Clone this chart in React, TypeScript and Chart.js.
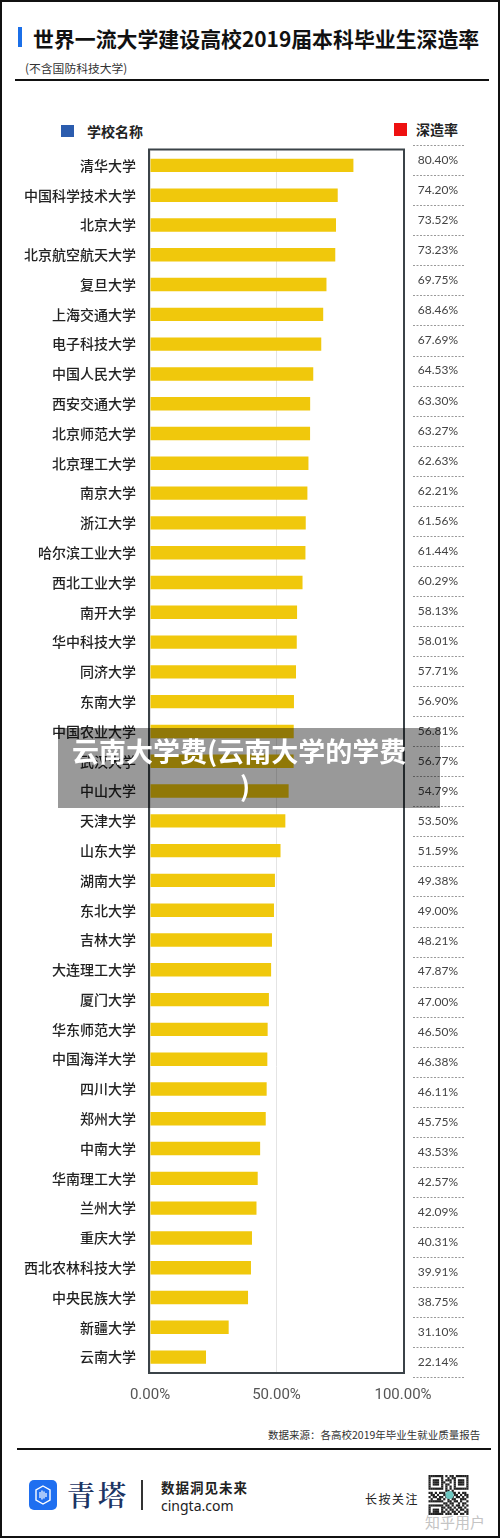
import React, { useEffect, useRef } from "react";
import { Chart, registerables } from "chart.js";

Chart.register(...registerables);

const schools = [
  "清华大学", "中国科学技术大学", "北京大学", "北京航空航天大学", "复旦大学",
  "上海交通大学", "电子科技大学", "中国人民大学", "西安交通大学", "北京师范大学",
  "北京理工大学", "南京大学", "浙江大学", "哈尔滨工业大学", "西北工业大学",
  "南开大学", "华中科技大学", "同济大学", "东南大学", "中国农业大学",
  "武汉大学", "中山大学", "天津大学", "山东大学", "湖南大学",
  "东北大学", "吉林大学", "大连理工大学", "厦门大学", "华东师范大学",
  "中国海洋大学", "四川大学", "郑州大学", "中南大学", "华南理工大学",
  "兰州大学", "重庆大学", "西北农林科技大学", "中央民族大学", "新疆大学",
  "云南大学",
];

const rates = [
  80.40, 74.20, 73.52, 73.23, 69.75,
  68.46, 67.69, 64.53, 63.30, 63.27,
  62.63, 62.21, 61.56, 61.44, 60.29,
  58.13, 58.01, 57.71, 56.90, 56.81,
  56.77, 54.79, 53.50, 51.59, 49.38,
  49.00, 48.21, 47.87, 47.00, 46.50,
  46.38, 46.11, 45.75, 43.53, 42.57,
  42.09, 40.31, 39.91, 38.75, 31.10,
  22.14,
];

const rateLabels = rates.map((v) => v.toFixed(2) + "%");
const xTickLabels = ["0.00%", "50.00%", "100.00%"];

const BAR_COLOR = "#f0c80c";
const FRAME_COLOR = "#3b4348";

const framePlugin = {
  id: "frameAndValues",
  afterDraw(chart: any) {
    const { ctx, chartArea: a, scales } = chart;
    const y = scales.y;
    ctx.save();
    ctx.strokeStyle = FRAME_COLOR;
    ctx.lineWidth = 2;
    ctx.setLineDash([]);
    ctx.strokeRect(a.left - 1, a.top - 1, a.right - a.left + 2, a.bottom - a.top + 2);

    const n = rates.length;
    const first = y.getPixelForValue(0);
    const last = y.getPixelForValue(n - 1);
    const mid = (first + last) / 2;
    const k = 1.0087;
    const step = ((last - first) / (n - 1)) * k;
    const cx = a.right + 35;
    ctx.font = "12px Lato, 'Noto Sans', sans-serif";
    ctx.fillStyle = "#444";
    ctx.textAlign = "center";
    ctx.textBaseline = "middle";
    rateLabels.forEach((t, i) => {
      const yy = mid + (y.getPixelForValue(i) - mid) * k;
      ctx.fillText(t, cx, yy);
    });
    ctx.strokeStyle = "#9a9a9a";
    ctx.lineWidth = 1;
    ctx.setLineDash([2, 1.5]);
    const start = mid + (first - mid) * k - step / 2;
    for (let i = 0; i <= n; i++) {
      const yy = Math.round(start + i * step) + 0.5;
      ctx.beginPath();
      ctx.moveTo(a.right + 10, yy);
      ctx.lineTo(a.right + 62, yy);
      ctx.stroke();
    }
    ctx.restore();
  },
};

function BarChart() {
  const ref = useRef<HTMLCanvasElement | null>(null);
  useEffect(() => {
    if (!ref.current) return;
    const chart = new Chart(ref.current, {
      type: "bar",
      data: {
        labels: schools,
        datasets: [
          {
            data: rates,
            backgroundColor: BAR_COLOR,
            borderWidth: 0,
            barPercentage: 0.45,
            categoryPercentage: 1,
          },
        ],
      },
      options: {
        indexAxis: "y",
        responsive: false,
        animation: false,
        devicePixelRatio: 1,
        layout: { padding: { top: 10.5, right: 97, left: 0, bottom: 0 } },
        plugins: {
          legend: { display: false },
          tooltip: { enabled: false },
          title: { display: false },
        },
        scales: {
          x: {
            type: "linear",
            min: 0,
            max: 100,
            ticks: {
              stepSize: 50,
              callback: (_v: any, i: number) => xTickLabels[i],
              font: { family: "Roboto", size: 15 },
              color: "#555",
              padding: 14,
              maxRotation: 0,
            },
            grid: { color: "#e4e4e4", lineWidth: 1, drawTicks: false },
            border: { display: false },
            afterFit(s: any) {
              s.height = 48;
              s.paddingLeft = 0;
              s.paddingRight = 0;
            },
          },
          y: {
            type: "category",
            ticks: {
              autoSkip: false,
              font: { family: "'Noto Sans CJK SC'", size: 14, weight: "500" },
              color: "#222",
              padding: 14,
            },
            grid: { display: false, drawTicks: false },
            border: { display: false },
            afterFit(s: any) {
              s.width = 150;
              s.paddingTop = 0;
              s.paddingBottom = 0;
            },
          },
        },
      } as any,
      plugins: [framePlugin],
    });
    return () => chart.destroy();
  }, []);
  return (
    <canvas
      ref={ref}
      width={500}
      height={1280}
      style={{ position: "absolute", left: 0, top: 140, width: 500, height: 1280 }}
    />
  );
}

const qrRows = [
  "1111111010110111111",
  "1000001001011000001",
  "1011101011101011101",
  "1011101100101011101",
  "1011101011001011101",
  "1000001010101000001",
  "1111111010101111111",
  "0000000011010000000",
  "1101011100111010110",
  "0110100111001101011",
  "1011011010110110101",
  "0100110101011001110",
  "1111111001101101001",
  "0000000110110010110",
  "1111111011010110101",
  "1000001101101011010",
  "1011101010110101101",
  "1011101101011010011",
  "1111111011101101101",
];

function QR() {
  const cell = 2.1;
  const rects: any[] = [];
  qrRows.forEach((row, r) => {
    row.split("").forEach((c, col) => {
      if (c === "1") {
        rects.push(
          <rect key={r + "-" + col} x={col * cell} y={r * cell} width={cell + 0.1} height={cell + 0.1} fill="#222" />
        );
      }
    });
  });
  return (
    <svg width={41} height={40} viewBox="0 0 40 40" style={{ position: "absolute", left: 428, top: 1475 }}>
      {rects}
      <circle cx={21} cy={20} r={4} fill="#6cc6c0" />
    </svg>
  );
}

function Logo() {
  return (
    <svg width={28} height={30} viewBox="0 0 28 30" style={{ position: "absolute", left: 29, top: 1480 }}>
      <rect x={0} y={0} width={28} height={30} rx={5} fill="#1f6ff0" />
      <polygon points="14,6 21,10 21,20 14,24 7,20 7,10" fill="none" stroke="#fff" strokeWidth={1.4} />
      <line x1={11} y1={12} x2={11} y2={18} stroke="#fff" strokeWidth={1.2} />
      <line x1={13} y1={10.5} x2={13} y2={19.5} stroke="#fff" strokeWidth={1.2} />
      <line x1={15} y1={11.5} x2={15} y2={18.5} stroke="#fff" strokeWidth={1.2} />
      <line x1={17} y1={13} x2={17} y2={17} stroke="#fff" strokeWidth={1.2} />
    </svg>
  );
}

function Txt(props: { left: number; cy: number; size: number; children: any; style?: any }) {
  const h = Math.round(props.size * 1.5);
  return (
    <div
      style={{
        position: "absolute",
        left: props.left,
        top: props.cy - h / 2,
        height: h,
        lineHeight: h + "px",
        fontSize: props.size,
        whiteSpace: "nowrap",
        ...props.style,
      }}
    >
      {props.children}
    </div>
  );
}

export default function App() {
  return (
    <div
      style={{
        position: "absolute",
        left: 0,
        top: 0,
        width: 500,
        height: 1538,
        background: "#fff",
        overflow: "hidden",
        fontFamily: "'Noto Sans CJK SC', 'Noto Sans', sans-serif",
        color: "#111",
      }}
    >
      {/* header */}
      <div style={{ position: "absolute", left: 18, top: 27, width: 4, height: 20, background: "#1b6fe8" }} />
      <Txt left={33} cy={38.5} size={20.9} style={{ fontWeight: 700, color: "#111" }}>
        世界一流大学建设高校2019届本科毕业生深造率
      </Txt>
      <Txt left={25} cy={68} size={11.8} style={{ color: "#333" }}>
        (不含国防科技大学)
      </Txt>
      <div style={{ position: "absolute", left: 15, top: 79, width: 474, height: 2, background: "#111" }} />

      {/* legend */}
      <div style={{ position: "absolute", left: 61, top: 125, width: 13, height: 12, background: "#2b5cae" }} />
      <Txt left={87} cy={131} size={14} style={{ fontWeight: 700, color: "#222" }}>
        学校名称
      </Txt>
      <div style={{ position: "absolute", left: 394, top: 123, width: 13, height: 13, background: "#ee1111" }} />
      <Txt left={416} cy={129.5} size={14} style={{ fontWeight: 700, color: "#222" }}>
        深造率
      </Txt>

      <BarChart />

      {/* source */}
      <Txt left={268} cy={1435} size={10.5} style={{ color: "#333" }}>
        数据来源：各高校2019年毕业生就业质量报告
      </Txt>
      <div style={{ position: "absolute", left: 17, top: 1448, width: 474, height: 2, background: "#111" }} />

      {/* footer */}
      <Logo />
      <Txt left={67} cy={1494} size={28} style={{ fontFamily: "'Noto Serif CJK SC', serif", color: "#1c3564", letterSpacing: 3, fontWeight: 600 }}>
        青塔
      </Txt>
      <div style={{ position: "absolute", left: 141, top: 1480, width: 1.5, height: 30, background: "#333" }} />
      <Txt left={161} cy={1487} size={13.5} style={{ fontWeight: 700, color: "#222", letterSpacing: 1 }}>
        数据洞见未来
      </Txt>
      <Txt left={161} cy={1505} size={14} style={{ fontFamily: "'Noto Sans', sans-serif", color: "#222" }}>
        cingta.com
      </Txt>
      <Txt left={365} cy={1499} size={12} style={{ color: "#222", letterSpacing: 1.5 }}>
        长按关注
      </Txt>
      <QR />
      <Txt left={425} cy={1521} size={15} style={{ color: "#c4c4c4", textShadow: "0 0 2px #fff" }}>
        知乎用户
      </Txt>

      {/* overlay banner */}
      <div style={{ position: "absolute", left: 58, top: 728, width: 382, height: 80, background: "rgba(0,0,0,0.4)" }} />
      <Txt left={72} cy={750} size={27} style={{ fontWeight: 700, color: "#fff" }}>
        云南大学费(云南大学的学费
      </Txt>
      <Txt left={240} cy={785} size={27} style={{ fontWeight: 700, color: "#fff" }}>
        )
      </Txt>

      {/* outer frame */}
      <div
        style={{
          position: "absolute",
          left: 0,
          top: 0,
          width: 500,
          height: 1538,
          boxSizing: "border-box",
          border: "2px solid #111",
          pointerEvents: "none",
        }}
      />
    </div>
  );
}
